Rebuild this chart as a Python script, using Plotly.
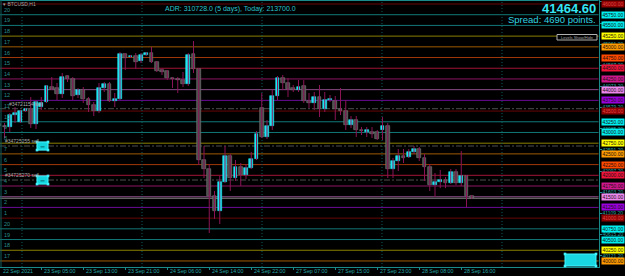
import plotly.graph_objects as go

W, H = 625, 276

# ---------------- data ----------------
opens = [43198, 43151, 43128, 43408, 43245, 43502, 43548, 43198, 43595, 43712,
         44062, 44039, 43898, 44319, 44249, 43875, 43992, 43782, 43642, 43502,
         44039, 44132, 43735, 43782, 44832, 44762, 44786, 44669, 44809, 44856,
         44646, 44459, 44436, 44272, 44249, 44225, 44132, 44832, 44482, 42357,
         42147, 41517, 41167, 41844, 42451, 41937, 42194, 42007, 42171, 42381,
         43572, 42894, 43151, 43852, 44272, 44155, 44039, 43992, 44085, 43735,
         43688, 43828, 43548, 43758, 43735, 43548, 43502, 43175, 43291, 43058,
         43011, 43011, 43011, 43058, 43151, 42147, 42334, 42451, 42427, 42544,
         42614, 42404, 42194, 41774, 41844, 41890, 41820, 42077, 41820, 41984,
         41517]
highs = [43245, 43221, 43455, 43595, 43525, 43572, 43828, 43758, 43828, 44109,
         44295, 44155, 44389, 44342, 44295, 44039, 44062, 43828, 43712, 44155,
         44179, 44179, 43922, 44879, 44856, 44809, 44856, 44856, 44879, 44996,
         44669, 44505, 44459, 44295, 44295, 44412, 44856, 45136, 44505, 42684,
         42264, 41634, 41984, 42684, 42497, 42357, 42287, 42264, 42544, 43034,
         43922, 43291, 43992, 44319, 44342, 44272, 44109, 44225, 44225, 43922,
         43945, 44109, 43945, 43875, 43852, 44039, 43758, 43385, 43385, 43128,
         43128, 43128, 43058, 43361, 43221, 42404, 42614, 42614, 42614, 42684,
         42660, 42497, 42264, 42054, 42124, 41960, 42147, 42147, 42568, 42007,
         41540]
lows = [43128, 42871, 43011, 43221, 43221, 43478, 43105, 43081, 43525, 43688,
        43992, 43758, 43805, 44179, 43758, 43805, 43688, 43478, 43385, 43455,
        43945, 43712, 43595, 43758, 44459, 44739, 44482, 44622, 44786, 44622,
        44412, 44342, 44225, 44039, 43922, 44062, 44085, 44389, 42241, 41937,
        40653, 40980, 40863, 41820, 41634, 41867, 41750, 41914, 42147, 42357,
        42871, 42848, 43058, 43758, 43992, 43828, 43945, 43945, 43688, 43572,
        43525, 43361, 43478, 43712, 43291, 43408, 43058, 43105, 42894, 42941,
        42894, 42871, 42824, 42824, 41937, 41937, 42100, 42287, 42404, 42497,
        42334, 41867, 41634, 41493, 41700, 41700, 41797, 41774, 41750, 41260,
        41450]
closes = [43151, 43128, 43408, 43455, 43502, 43548, 43198, 43712, 43688, 44085,
          44015, 43898, 44295, 44249, 43852, 43992, 43782, 43642, 43502, 44039,
          44132, 43735, 43782, 44832, 44739, 44786, 44646, 44809, 44856, 44646,
          44436, 44412, 44272, 44249, 44225, 44132, 44809, 44482, 42357, 42147,
          41517, 41167, 41844, 42451, 41937, 42194, 42007, 42171, 42381, 42964,
          42894, 43151, 43852, 44272, 44155, 44015, 43992, 44062, 43735, 43688,
          43828, 43548, 43758, 43782, 43548, 43502, 43175, 43291, 43058, 43034,
          43058, 42964, 42848, 43151, 42147, 42334, 42451, 42404, 42544, 42614,
          42404, 42194, 41774, 41844, 41890, 41820, 42077, 41820, 41984, 41517,
          41464.6]

tick_bars = [0, 8, 16, 24, 32, 40, 48, 56, 64, 72, 80, 88]
tick_labels = ["22 Sep 2021", "23 Sep 05:00", "23 Sep 13:00", "23 Sep 21:00",
               "24 Sep 06:00", "24 Sep 14:00", "24 Sep 22:00", "27 Sep 07:00",
               "27 Sep 15:00", "27 Sep 23:00", "28 Sep 08:00", "28 Sep 16:00"]

level_prices = [46000, 45750, 45500, 45250, 45000, 44750, 44500, 44250, 44000,
                43750, 43500, 43250, 43000, 42750, 42500, 42250, 42000, 41750,
                41500, 41250, 41000, 40750, 40500, 40250, 40000]
level_numbers = ["", "20", "19", "18", "17", "16", "15", "14", "13", "12", "11",
                 "10", "9", "8", "7", "6", "5", "4", "3", "2", "1", "20", "19",
                 "18", "17"]
level_kinds = ["darkred", "cyan", "cyan", "yellow", "orange", "orangered",
               "crimson", "magenta", "orchid", "purple",
               "darkred", "cyan", "cyan", "yellow", "orange", "orangered",
               "crimson", "magenta", "orchid", "purple",
               "darkred", "cyan", "cyan", "yellow", "orange"]

scale_ticks = [46049.2, 45555.2, 45061.2, 44567.2, 44073.2, 43579.2, 43085.2,
               42591.2, 42097.2, 41603.2, 41109.2, 40615.2, 40121.2]

bid_price = 41464.6
order_prices = [43555, 42684, 41890]
order_labels = ["#34721154 sell", "#34725255 sell", "#34725270 sell"]

grid_bars = [4.33, 27.19, 50.05, 72.90, 95.76]

# ---------------- styles ----------------
LINE_COL = {"darkred": "#6a0606", "cyan": "#127878", "yellow": "#8c8000",
            "orange": "#a05a00", "orangered": "#a03808", "crimson": "#a01436",
            "magenta": "#8e1462", "orchid": "#8a4a86", "purple": "#6a0c96"}
BOX_COL = {"darkred": "#8b0000", "cyan": "#00eef0", "yellow": "#ffff00",
           "orange": "#ff9a00", "orangered": "#ff4a00", "crimson": "#f0143c",
           "magenta": "#d0188e", "orchid": "#ee88ee", "purple": "#9a00dd"}
TEAL = "#1a8a8a"
TXT_TEAL = "#2aa6a6"
FONT = "Liberation Sans"

X0_BAR, X1_BAR = 0.143, 114.14
PLOT_R = 598.5 / W
Y_BOT = 9 / H


def py(px):
    return 1 - px / H


def pxx(px):
    return px / W


def bar_to_paper(b):
    return (b - X0_BAR) / (X1_BAR - X0_BAR) * PLOT_R


fig = go.Figure()

# wicks
wx, wy = [], []
for i, (h, l) in enumerate(zip(highs, lows)):
    wx += [i, i, None]
    wy += [l, h, None]
fig.add_trace(go.Scatter(x=wx, y=wy, mode="lines",
                         line=dict(color="#8a1456", width=1),
                         hoverinfo="skip", showlegend=False))

# bodies
base, height, fill, edge = [], [], [], []
for o, c in zip(opens, closes):
    lo, hi = min(o, c), max(o, c)
    if hi - lo < 20:
        hi = lo + 20
    base.append(lo)
    height.append(hi - lo)
    if c > o:
        fill.append("#1ee8f4"); edge.append("#1ee8f4")
    else:
        fill.append("#4c4c4c"); edge.append("#7c7c7c")
fig.add_trace(go.Bar(x=list(range(len(opens))), y=height, base=base, width=0.68,
                     marker=dict(color=fill, line=dict(color=edge, width=0.6)),
                     hoverinfo="skip", showlegend=False))

shapes = []
# level lines
for p, k in zip(level_prices, level_kinds):
    shapes.append(dict(type="line", xref="paper", x0=0, x1=PLOT_R, yref="y",
                       y0=p, y1=p, line=dict(color=LINE_COL[k], width=1),
                       layer="below"))
# bid line
shapes.append(dict(type="line", xref="paper", x0=0, x1=PLOT_R, yref="y",
                   y0=bid_price, y1=bid_price,
                   line=dict(color="#8a8a8a", width=1), layer="below"))
# order lines
for p in order_prices:
    shapes.append(dict(type="line", xref="paper", x0=0, x1=PLOT_R, yref="y",
                       y0=p, y1=p, line=dict(color="#4e4e4e", width=1,
                                             dash="6px,2px,2px,2px"),
                       layer="below"))
# grid vertical lines
for gx in grid_bars:
    shapes.append(dict(type="line", xref="x", x0=gx, x1=gx, yref="paper",
                       y0=Y_BOT, y1=1, line=dict(color="#0d5c5c", width=1,
                                                 dash="1px,2px"), layer="below"))
# frame top / left
shapes.append(dict(type="line", xref="paper", x0=0, x1=PLOT_R, yref="paper",
                   y0=py(0.5), y1=py(0.5), line=dict(color=TEAL, width=1)))
shapes.append(dict(type="line", xref="paper", x0=pxx(1), x1=pxx(1),
                   yref="paper", y0=Y_BOT, y1=1, line=dict(color="#135c5c", width=1)))

# order icons (cyan boxes with corner handles)
for p in order_prices[1:]:
    shapes.append(dict(type="rect", xref="paper", x0=pxx(37), x1=pxx(48),
                       yref="y", y0=p - 95, y1=p + 95, fillcolor="#14d6e0",
                       line=dict(color="#40f4ff", width=1)))
    for cx in (37, 48):
        for dy in (-95, 95):
            shapes.append(dict(type="rect", xref="paper", x0=pxx(cx - 1.3),
                               x1=pxx(cx + 1.3), yref="y", y0=p + dy - 30,
                               y1=p + dy + 30, fillcolor="#40f4ff",
                               line=dict(width=0)))
    shapes.append(dict(type="line", xref="paper", x0=pxx(40.5), x1=pxx(44.5),
                       yref="y", y0=p - 20, y1=p - 20,
                       line=dict(color="#0a6a70", width=1)))

# bottom-right cyan panel
shapes.append(dict(type="rect", xref="paper", x0=pxx(565), x1=pxx(596),
                   yref="paper", y0=py(266), y1=py(254), fillcolor="#1ad8e2",
                   line=dict(color="#40f4ff", width=1)))
for cx in (565, 596):
    for cy in (254, 266):
        shapes.append(dict(type="rect", xref="paper", x0=pxx(cx - 1.3),
                           x1=pxx(cx + 1.3), yref="paper", y0=py(cy + 1.3),
                           y1=py(cy - 1.3), fillcolor="#40f4ff",
                           line=dict(width=0)))

# Levels Show/Hide button
shapes.append(dict(type="rect", xref="paper", x0=pxx(557), x1=pxx(597),
                   yref="paper", y0=py(40), y1=py(34.5), fillcolor="#000000",
                   line=dict(color="#b0b0b0", width=1)))

ann = []
# right level boxes
for p, k in zip(level_prices, level_kinds):
    ann.append(dict(xref="paper", x=600.5 / W, xanchor="left", yref="y", y=p,
                    yanchor="middle", text=f"{p:.2f}", showarrow=False,
                    width=22, height=6, bgcolor=BOX_COL[k], borderpad=0,
                    font=dict(family=FONT, size=5,
                              color="#e04848" if k == "darkred" else "#1a1010")))
# left level numbers
for p, n in zip(level_prices, level_numbers):
    if n:
        ann.append(dict(xref="paper", x=2 / W, xanchor="left", yref="y", y=p,
                        yanchor="bottom", yshift=0, text=n, showarrow=False,
                        font=dict(family=FONT, size=5.5, color="#2a8c8c")))
# date labels
for b, t in zip(tick_bars, tick_labels):
    ann.append(dict(xref="paper", x=max(bar_to_paper(b), 0) + 1 / W,
                    xanchor="left", yref="paper",
                    y=py(270.7), yanchor="middle", text=t, showarrow=False,
                    font=dict(family=FONT, size=5.3, color=TXT_TEAL)))
# order labels
for p, t, x in zip(order_prices, order_labels, (7, 3, 3)):
    ann.append(dict(xref="paper", x=x / W, xanchor="left", yref="y", y=p,
                    yanchor="bottom", yshift=0, text=t, showarrow=False,
                    font=dict(family=FONT, size=5, color="#a8a8a8")))
# header texts
ann.append(dict(xref="paper", x=1 / W, xanchor="left", yref="paper", y=py(4.5),
                yanchor="middle", text="▾ BTCUSD,H1", showarrow=False,
                font=dict(family=FONT, size=5, color="#a0a0a0")))
ann.append(dict(xref="paper", x=163 / W, xanchor="left", yref="paper",
                y=py(8.5), yanchor="middle",
                text="ADR: 310728.0 (5 days), Today: 213700.0", showarrow=False,
                font=dict(family=FONT, size=7, color="#2cc2cc")))
ann.append(dict(xref="paper", x=597.5 / W, xanchor="right", yref="paper",
                y=py(8.5), yanchor="middle", text="<b>41464.60</b>",
                showarrow=False,
                font=dict(family=FONT, size=13, color="#36e4f2")))
ann.append(dict(xref="paper", x=597.5 / W, xanchor="right", yref="paper",
                y=py(20), yanchor="middle", text="Spread: 4690 points.",
                showarrow=False,
                font=dict(family=FONT, size=9.5, color="#30d4e2")))
ann.append(dict(xref="paper", x=577 / W, xanchor="center", yref="paper",
                y=py(37.2), yanchor="middle", text="Levels Show/Hide",
                showarrow=False,
                font=dict(family=FONT, size=4, color="#a0a0a0")))

fig.update_layout(
    width=W, height=H, margin=dict(l=0, r=0, t=0, b=0),
    paper_bgcolor="#000000", plot_bgcolor="#000000",
    showlegend=False, bargap=0, shapes=shapes, annotations=ann,
    xaxis=dict(domain=[0, PLOT_R], range=[X0_BAR, X1_BAR], showgrid=False,
               zeroline=False, showline=True, linecolor=TEAL, linewidth=1,
               ticks="outside", ticklen=2, tickcolor=TEAL, tickvals=tick_bars,
               showticklabels=False, automargin=False, fixedrange=True),
    yaxis=dict(domain=[Y_BOT, 1], range=[39858.9, 46093.4], side="right",
               showgrid=False, zeroline=False, showline=True, linecolor=TEAL,
               linewidth=1, ticks="outside", ticklen=2, tickcolor=TEAL,
               tickvals=scale_ticks, ticktext=[f"{v:.2f}" for v in scale_ticks],
               tickfont=dict(family=FONT, size=5, color=TXT_TEAL),
               automargin=False, fixedrange=True),
)

fig.write_html("out.html")
